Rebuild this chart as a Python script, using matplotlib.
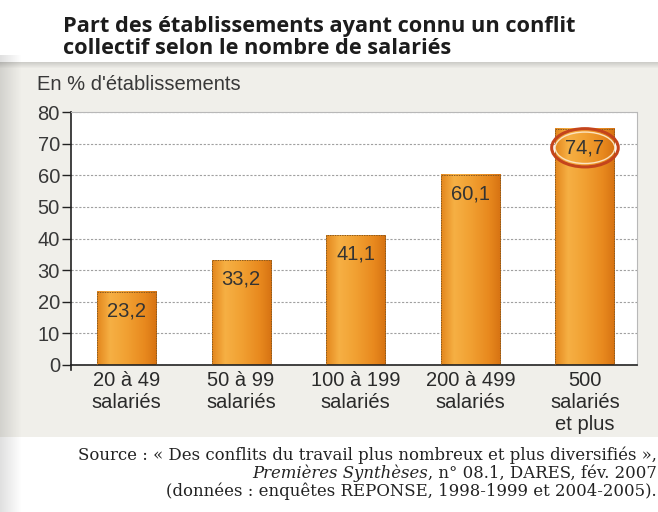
import numpy as np
import matplotlib
matplotlib.use("Agg")
import matplotlib.pyplot as plt
from matplotlib.colors import LinearSegmentedColormap

# ---------------- data ----------------
categories = ["20 à 49\nsalariés", "50 à 99\nsalariés", "100 à 199\nsalariés",
              "200 à 499\nsalariés", "500\nsalariés\net plus"]
values = [23.2, 33.2, 41.1, 60.1, 74.7]
value_labels = ["23,2", "33,2", "41,1", "60,1", "74,7"]
yticks = [0, 10, 20, 30, 40, 50, 60, 70, 80]
ytick_labels = ["0", "10", "20", "30", "40", "50", "60", "70", "80"]
title_lines = ["Part des établissements ayant connu un conflit",
               "collectif selon le nombre de salariés"]
ylabel = "En % d'établissements"
source_line1 = "Source : « Des conflits du travail plus nombreux et plus diversifiés »,"
source_line2_italic = "Premières Synthèses"
source_line2_rest = ", n° 08.1, DARES, fév. 2007"
source_line3 = "(données : enquêtes REPONSE, 1998-1999 et 2004-2005)."

plt.rcParams["font.family"] = ["Liberation Sans", "DejaVu Sans"]

W, H = 658, 512
fig = plt.figure(figsize=(W / 100, H / 100), dpi=100)
fig.patch.set_facecolor("white")


def fx(px):
    return px / W


def fy(py):
    return 1 - py / H


# ---------------- background (scan panel) ----------------
bg = fig.add_axes([0, 0, 1, 1], zorder=-10)
bg.axis("off")
img = np.ones((H, W, 3))
panel = np.array([240, 239, 234]) / 255
img[62:437, :] = panel
band = np.linspace(0.86, 1.0, 7)
for i, f in enumerate(band):
    img[62 + i, :] = panel * f
shade = np.linspace(0.88, 1.0, 22)
for j, f in enumerate(shade):
    img[55:, j] = img[55:, j] * f
bg.imshow(img, extent=[0, W, H, 0], aspect="auto", interpolation="bilinear")
bg.set_xlim(0, W)
bg.set_ylim(H, 0)

# ---------------- main axes ----------------
ax = fig.add_axes([fx(71), fy(365), fx(637) - fx(71), (365 - 112) / H])
ax.set_facecolor("white")
x = np.arange(len(values))
xlim = (-0.484, 4.454)
ax.set_xlim(*xlim)
ax.set_ylim(0, 80)

ax.set_yticks(yticks, ytick_labels)
ax.yaxis.grid(True, color="#a0a0a0", lw=0.8, ls=(0, (2, 1.5)))
ax.set_axisbelow(True)

bw = 0.515
bars = ax.bar(x, values, width=bw, color="#ef9a2a", zorder=2)
cmap = LinearSegmentedColormap.from_list(
    "cyl", [(0.0, "#e3861c"), (0.22, "#f6b044"), (0.5, "#f1a032"),
            (0.8, "#e8891e"), (1.0, "#d67212")])
grad = np.linspace(0, 1, 256).reshape(1, -1)
for b in bars:
    ax.imshow(grad, cmap=cmap, aspect="auto", zorder=2.5,
              extent=[b.get_x(), b.get_x() + b.get_width(), 0, b.get_height()])
ax.bar(x, values, width=bw, fill=False, edgecolor="#8a5a20", lw=0.7,
       linestyle=(0, (1.5, 1)), zorder=3)
ax.set_xlim(*xlim)
ax.set_ylim(0, 80)
ax.set_aspect("auto")

for i, (b, lab) in enumerate(zip(bars, value_labels)):
    xy = (b.get_x() + b.get_width() / 2, b.get_height())
    kw = {}
    if i == len(values) - 1:
        kw["bbox"] = dict(boxstyle="ellipse,pad=0.2", fc="none", ec="#c4441c", lw=2.2)
        ax.annotate(lab, xy, xytext=(0, -13.7), textcoords="offset points",
                    ha="center", va="center", fontsize=14.5, color="none",
                    zorder=4.9,
                    bbox=dict(boxstyle="ellipse,pad=0.08", fc="none",
                              ec="#fbe3c0", lw=1.0))
    ax.annotate(lab, xy, xytext=(0, -13.7), textcoords="offset points",
                ha="center", va="center", fontsize=14.5, color="#333333",
                zorder=5, **kw)

ax.set_xticks(x, categories)
for t in ax.get_xticklabels():
    t.set_linespacing(1.2)
ax.tick_params(axis="x", length=0, pad=4, labelsize=14.5, labelcolor="#2a2a2a")
ax.tick_params(axis="y", length=6.5, width=1, color="#222222", pad=1.5,
               labelsize=14.5, labelcolor="#383838")

for s in ["left", "bottom"]:
    ax.spines[s].set_color("#222222")
    ax.spines[s].set_linewidth(1.2)
for s in ["top", "right"]:
    ax.spines[s].set_color("#b8b8b8")
    ax.spines[s].set_linewidth(0.8)
    ax.spines[s].set_linestyle((0, (1.5, 1)))
ax.plot([0, 0], [0, -0.02], transform=ax.transAxes, color="#222222",
        lw=1.2, clip_on=False)

# ---------------- texts ----------------
fig.text(fx(37), fy(85), ylabel, ha="left", va="center", fontsize=14.5,
         color="#383838")

t1 = fig.text(fx(63), fy(32), title_lines[0], ha="left", va="baseline",
              fontsize=15, fontweight="bold", family=["Open Sans", "DejaVu Sans"],
              color="#1c1c1c")
t2 = fig.text(fx(63), fy(54), title_lines[1], ha="left", va="baseline",
              fontsize=15, fontweight="bold", family=["Open Sans", "DejaVu Sans"],
              color="#1c1c1c")

serif = ["DejaVu Serif"]
s1 = fig.text(fx(657), fy(455), source_line1, ha="right", va="center",
              fontsize=10, family=serif, color="#222222")
s2b = fig.text(fx(657), fy(473), source_line2_rest, ha="right", va="center",
               fontsize=10, family=serif, color="#222222")
s2a = fig.text(fx(657), fy(473), source_line2_italic, ha="right", va="center",
               fontsize=10, family=serif, style="italic", color="#222222")
s3 = fig.text(fx(657), fy(491), source_line3, ha="right", va="center",
              fontsize=10, family=serif, color="#222222")

# fit text widths to the reference
fig.canvas.draw()
r = fig.canvas.get_renderer()
wt = t1.get_window_extent(r).width
fs_t = 15 * 512 / wt
t1.set_fontsize(fs_t)
t2.set_fontsize(fs_t)
ws = s1.get_window_extent(r).width
fs_s = 10 * 580 / ws
for t in (s1, s2a, s2b, s3):
    t.set_fontsize(fs_s)
fig.canvas.draw()
left = s2b.get_window_extent(r).x0
s2a.set_x(left / W)

fig.savefig("out.png", dpi=100, facecolor=fig.get_facecolor())
